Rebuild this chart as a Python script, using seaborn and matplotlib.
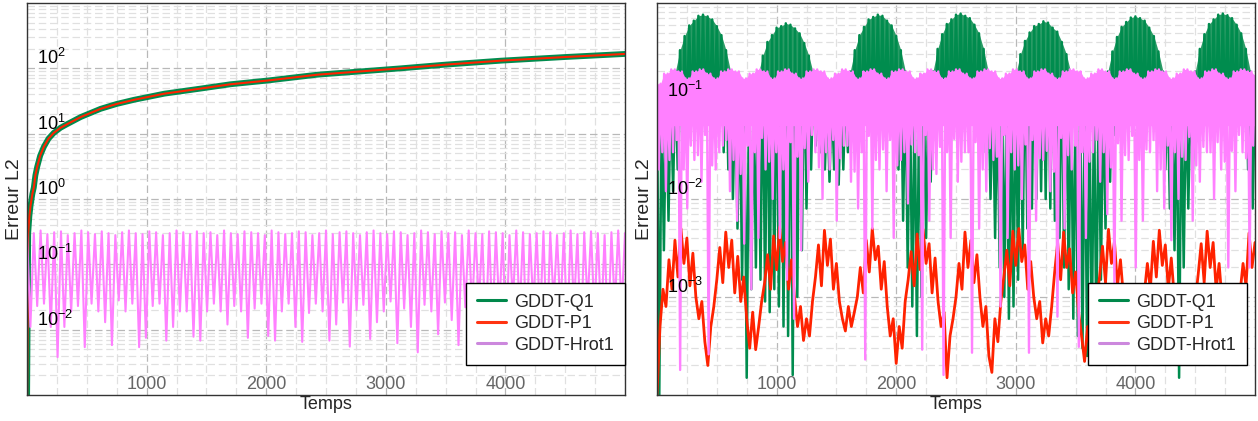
import numpy as np
import matplotlib
matplotlib.use("Agg")
import matplotlib.pyplot as plt
import seaborn as sns
from matplotlib.ticker import MultipleLocator, LogLocator, NullFormatter, NullLocator
from matplotlib.lines import Line2D

# ---------------- data ----------------
series_names = ["GDDT-Q1", "GDDT-P1", "GDDT-Hrot1"]
x_tick_values = [1000, 2000, 3000, 4000]
left_y_ticks = [1e-2, 1e-1, 1e0, 1e1, 1e2]
right_y_ticks = [1e-3, 1e-2, 1e-1]

# left panel: Q1 and P1 grow together
t_left_curve = [0, 10, 20, 30, 45, 57, 70, 85, 110, 141, 180, 224, 280, 336, 450, 615,
                750, 895, 1150, 1452, 1700, 2010, 2430, 2800, 3126, 3500, 3962, 4500, 5000]
q1_left = [5e-4, 0.3, 0.55, 0.8, 1.2, 1.5, 2.3, 3.1, 4.6, 6.3, 8.4, 10.3, 12.3, 14, 18, 24,
           28.5, 33, 41, 49, 57, 65, 80, 90, 100, 114, 131, 149, 166]
p1_left = [5e-4, 0.3, 0.55, 0.8, 1.2, 1.5, 2.3, 3.1, 4.6, 6.3, 8.4, 10.3, 12.3, 14, 18, 24,
           28.5, 33, 41, 49, 57, 65, 80, 90, 100, 114, 131, 149, 166]

# left panel: Hrot1 peaks and dips (alternating)
hrot_left_peaks = [.31, .30, .33, .29, .31, .32, .28, .30, .33, .31, .29, .32, .30, .28, .31, .33,
                   .30, .29, .32, .31, .28, .30, .33, .31, .29, .32, .30, .31, .28, .33, .30, .29,
                   .32, .31, .30, .28, .33, .31, .29, .30, .32, .31, .28, .30, .33, .29, .31, .32,
                   .30, .28, .31, .33, .30, .29, .32, .31, .28, .30, .33, .31, .29, .32, .30, .31,
                   .28, .33, .30, .29, .32, .31, .30, .28, .33, .31, .29, .30, .32, .31, .28, .30,
                   .33, .29, .31, .32, .30, .28, .31, .33, .30]
hrot_left_dips = [.011, .023, .025, .011, .0038, .011, .019, .023, .0054, .025, .019, .013, .0058,
                  .028, .019, .025, .0054, .0075, .023, .025, .0068, .011, .019, .019, .0078, .0068,
                  .019, .025, .019, .012, .023, .019, .0075, .021, .025, .008, .0068, .019, .025,
                  .011, .0065, .018, .025, .019, .0068, .012, .026, .0055, .02, .024, .0072, .013,
                  .019, .027, .0062, .021, .011, .0045, .024, .019, .0085, .026, .014, .0058, .022,
                  .019, .025, .007, .012, .02, .0052, .026, .018, .0075, .023, .013, .0062, .025,
                  .019, .0088, .021, .0055, .024, .017, .012, .0068, .022, .02]

# right panel: Q1 oscillation (upper / lower values, alternating)
q1_right_up = [.10, .12, .13, .14,
               .2, .33, .46, .59, .66, .74, .76, .73, .68, .58, .47, .33, .2,
               .13, .12, .12, .12, .13,
               .19, .29, .4, .47, .56, .58, .62, .6, .55, .49, .39, .29, .19,
               .13, .12, .12, .12, .12, .12, .13,
               .2, .33, .47, .57, .68, .72, .76, .74, .66, .59, .46, .33, .2,
               .13, .12, .12, .12, .13,
               .2, .34, .48, .61, .68, .76, .78, .74, .7, .6, .49, .34, .2,
               .13, .12, .12, .12, .13,
               .19, .3, .41, .5, .58, .61, .65, .63, .56, .51, .4, .3, .19,
               .13, .12, .12, .12, .12, .12, .13,
               .2, .32, .45, .57, .64, .71, .73, .7, .66, .56, .46, .32, .2,
               .13, .12, .12, .12, .12, .13,
               .2, .34, .48, .61, .68, .76, .78, .75, .7, .6, .49, .34, .2,
               .13]
q1_right_dn = [1e-4, .003, .006, .012, .02, .035,
               .065, .07, .065, .07, .065, .07, .065, .07,
               .03, .02, .01, .005, .0015, 1.5e-4, .0012, .002, .0015, 9e-4, 7e-4, .0012, 8e-4,
               5e-4, 4e-4, 1.6e-4, .001, .003, .008, .02, .035, .03, .02, .015, .02, .014, .02, .03,
               .065, .07, .065, .07, .065, .07, .065, .07, .065, .07,
               .02, .006, .002, 8e-4, 4e-4, .001, .004, .015, .045,
               .065, .07, .065, .07, .065, .07, .065, .07, .065, .07,
               .03, .01, .004, .002, .001, 6e-4, 8e-4, .0015, .003, .005, .008, .01, .012, .01,
               .008, .006, .004, .002, .0012, 6e-4, 4e-4, 3e-4, 2.5e-4, 2.3e-4, 4e-4, .0015, .005,
               .015, .045,
               .065, .07, .065, .07, .065, .07, .065, .07, .065, .07,
               .02, .008, .003, 1.5e-4, .002, .008, .02, .045,
               .065, .07, .065, .07, .065, .07, .065, .07, .065, .07,
               .02, .008]

# right panel: P1 noisy values
p1_right = [1e-4,
            5e-4, 1.2e-3, 8e-4,
            2.4e-3, 1.2e-3, 3.8e-3, 1.6e-3, 5e-3, 2.2e-3, 4e-3, 1.3e-3, 2.8e-3, 1e-3,
            6e-4, 9e-4, 3.5e-4, 2e-4, 5e-4, 8e-4,
            1.5e-3, 3.2e-3, 1.4e-3, 4.6e-3, 2e-3, 3.8e-3, 1.1e-3, 2.6e-3, 9e-4, 1.6e-3,
            6e-4, 3e-4, 7e-4, 2.9e-4, 5e-4, 9e-4,
            1.4e-3, 2.7e-3, 1.2e-3, 4.2e-3, 1.9e-3, 5.2e-3, 2.3e-3, 3.6e-3, 1.2e-3, 2.4e-3, 1e-3,
            5e-4, 8e-4, 3.6e-4, 6e-4, 4e-4, 9e-4,
            1.6e-3, 3.4e-3, 1.3e-3, 4.8e-3, 2.1e-3, 3.9e-3, 1.2e-3, 2.2e-3, 9e-4,
            6e-4, 4.5e-4, 8e-4, 5e-4, 7e-4, 1e-3,
            2e-3, 1.1e-3, 3.8e-3, 1.8e-3, 5e-3, 2.4e-3, 3.3e-3, 1.2e-3, 2.3e-3,
            8e-4, 4e-4, 6e-4, 2.1e-4, 5e-4, 3e-4, 9e-4,
            1.5e-3, 2.9e-3, 1.3e-3, 4.4e-3, 1.9e-3, 4.9e-3, 2.2e-3, 3.5e-3, 1.1e-3, 2.5e-3, 9e-4,
            5e-4, 7e-4, 1.5e-4, 4e-4, 6e-4, 1e-3,
            2.2e-3, 1.2e-3, 4.6e-3, 2e-3, 3.8e-3, 1.4e-3, 2.7e-3, 1e-3,
            5e-4, 8e-4, 2.5e-4, 1.7e-4, 6e-4, 3.5e-4, 9e-4,
            1.6e-3, 3e-3, 1.3e-3, 4.7e-3, 2.1e-3, 5e-3, 2.3e-3, 3.4e-3, 1.2e-3, 2.3e-3, 1e-3,
            6e-4, 9e-4, 3.4e-4, 6e-4, 4e-4, 8e-4,
            1.8e-3, 3.6e-3, 1.5e-3, 4.6e-3, 2e-3, 3.1e-3, 1.1e-3, 1.8e-3,
            7e-4, 4e-4, 2.2e-4, 5e-4, 2.6e-4, 6e-4, 9e-4,
            1.6e-3, 3.3e-3, 1.4e-3, 4.9e-3, 2.2e-3, 3.7e-3, 1.3e-3, 2.4e-3, 1e-3,
            6e-4, 9e-4, 4e-4, 6e-4, 3.8e-4, 7e-4, 1.1e-3,
            2.2e-3, 1.2e-3, 3.7e-3, 1.6e-3, 4.8e-3, 2.1e-3, 3.4e-3, 1.2e-3, 2.5e-3, 1e-3,
            5e-4, 8e-4, 3e-4, 2.5e-4, 6e-4, 4e-4, 9e-4,
            1.7e-3, 3.5e-3, 1.4e-3, 4.7e-3, 2e-3, 3.6e-3, 1.2e-3, 2.2e-3, 9e-4,
            6e-4, 3.5e-4, 2.5e-4, 5e-4, 7e-4, 1.1e-3,
            2.2e-3, 1.3e-3, 4.5e-3, 2e-3, 3.6e-3]

# right panel: Hrot1 upper values, main spike dips, shallow dips and dense band floor
hrot_right_up = [.15, .19, .21, .2, .17, .2, .21, .19, .17, .2, .21, .2, .17, .19, .21, .2, .17,
                 .2, .21, .19, .17, .2, .21, .2, .17, .19, .21, .2, .17, .2, .21, .19, .17, .2,
                 .21, .2, .17, .19, .21, .2, .17, .2, .21, .19, .17, .2, .21, .2, .17, .19, .21,
                 .2, .17, .2, .21, .19, .17, .2, .21, .2, .17, .19, .21, .2, .17, .2, .21, .19,
                 .17, .2, .21, .2, .17, .19, .21, .2, .17, .2, .21, .19, .17, .2, .21, .2, .18]
hrot_right_dips = [.02, .012, .03, 1.8e-4, .008, .025, .015, 2.6e-4, .02, .035, .012, .006,
                   .0035, .0012, .004, .02, .01, .004, .0015, 6e-4, .003, .015, .03, .01, .02,
                   .006, .035, .015, .008, 2.3e-4, .005, .02, .012, .004, .025, .009, .03,
                   2.9e-4, .006, .018, 1.6e-4, .004, .015, .03, 2.7e-4, .005, .012, .025, 8e-4,
                   .004, .02, .01, 2.7e-4, .006, .025, .012, 6.3e-4, .005, .02, 3.1e-4, .004,
                   .03, .015, .007, 1.4e-3, .006, .025, 2e-3, .006, .03, .012, .008, 3.8e-3,
                   .01, .025, 6e-3, .015, .03, .01, .02, 2e-3, .012, .03, 2e-3]
hrot_right_shallow = [.03, .025, .04, .02, .035, .028, .045, .022, .03, .04, .025, .018, .035,
                      .03, .042, .024, .03, .02, .038, .027, .033, .045, .021, .03, .04, .026,
                      .035, .019, .03, .044, .025, .032, .04, .022, .03, .036, .028, .045, .02,
                      .034, .03, .041, .024, .03, .038, .02, .033, .027, .045, .03, .022, .036,
                      .04, .026, .031, .019, .042, .028, .035, .03, .024, .04, .03, .021, .037,
                      .028, .044, .025, .032, .04, .02, .035, .03, .027, .043, .022, .034, .03,
                      .038, .024, .031, .045, .026, .035]
hrot_right_floor = 0.056
q1_right_fill_floor = 0.1

# ---------------- helpers ----------------
def alternate(highs, lows):
    vals = []
    n = min(len(highs), len(lows))
    for a, b in zip(highs[:n], lows[:n]):
        vals += [a, b]
    if len(highs) > n:
        vals.append(highs[n])
    return vals


def alternate_two(highs, lows_a, lows_b):
    vals = []
    n = min(len(highs), len(lows_a), len(lows_b))
    for k in range(n):
        vals += [highs[k], lows_a[k], highs[k], lows_b[k]]
    if len(highs) > n:
        vals.append(highs[n])
    return vals


def time_grid(n):
    return np.linspace(0, 5000, n)


# ---------------- style ----------------
sns.set_theme(style="white")
plt.rcParams["font.family"] = ["Liberation Sans", "DejaVu Sans"]
plt.rcParams["mathtext.fontset"] = "custom"
plt.rcParams["mathtext.rm"] = "Liberation Sans"
plt.rcParams["mathtext.it"] = "Liberation Sans:italic"
plt.rcParams["mathtext.bf"] = "Liberation Sans:bold"
plt.rcParams["mathtext.default"] = "regular"

GREEN = "#008C4E"
GREEN_FILL = "#2A9C66"
RED = "#FF2200"
PINK = "#FF80FF"
LEG_COLORS = ["#00884B", "#FF3311", "#CC88DD"]
FS = 13

fig = plt.figure(figsize=(12.58, 4.21), dpi=100)
posL = [27 / 1258, 26 / 421, 598 / 1258, 392 / 421]
posR = [657 / 1258, 26 / 421, 598 / 1258, 392 / 421]
axL = fig.add_axes(posL)
axR = fig.add_axes(posR)


def style_axes(ax, ylim, yticks):
    ax.set_yscale("log")
    ax.set_xlim(0, 5000)
    ax.set_ylim(*ylim)
    ax.set_xticks(x_tick_values)
    ax.xaxis.set_minor_locator(MultipleLocator(250))
    ax.set_yticks(yticks)
    ax.yaxis.set_minor_locator(LogLocator(base=10, subs=np.arange(2, 10), numticks=100))
    ax.yaxis.set_minor_formatter(NullFormatter())
    ax.set_axisbelow(True)
    ax.grid(True, which="major", color="#b8b8b8", ls=(0, (6, 3)), lw=0.9)
    ax.grid(True, which="minor", color="#e0e0e0", ls=(0, (6, 3)), lw=0.9)
    ax.tick_params(which="both", direction="in", color="#222222",
                   labelleft=False, labelbottom=False)
    ax.tick_params(which="major", length=5, width=0.8)
    ax.tick_params(which="minor", length=3, width=0.7)
    for sp in ax.spines.values():
        sp.set_color("#333333")
        sp.set_linewidth(1.0)
    ax.set_xlabel("Temps", fontsize=FS, labelpad=1)
    ax.set_ylabel("Erreur L2", fontsize=14, labelpad=3)


def label_overlay(pos, ylim, yticks):
    ov = fig.add_axes(pos, frameon=False, zorder=5)
    ov.set_yscale("log")
    ov.set_xlim(0, 5000)
    ov.set_ylim(*ylim)
    ov.set_xticks(x_tick_values)
    ov.set_yticks(yticks)
    ov.xaxis.set_minor_locator(NullLocator())
    ov.yaxis.set_minor_locator(NullLocator())
    ov.patch.set_visible(False)
    ov.tick_params(which="both", direction="in", length=0)
    ov.tick_params(axis="y", pad=-7.5, labelsize=FS, labelcolor="black")
    ov.tick_params(axis="x", pad=-1.5, labelsize=FS, labelcolor="#666666")
    for lab in ov.get_yticklabels():
        lab.set_horizontalalignment("left")
        lab.set_verticalalignment("bottom")
    for lab in ov.get_xticklabels():
        lab.set_verticalalignment("bottom")
    return ov


def add_legend(ax, anchor):
    handles = [Line2D([0], [0], color=c, lw=2.2) for c in LEG_COLORS]
    leg = ax.legend(handles, series_names, loc="lower right", bbox_to_anchor=anchor,
                    fontsize=FS, frameon=True, fancybox=False, framealpha=1,
                    edgecolor="black", handlelength=1.6, handletextpad=0.45,
                    labelspacing=0.25, borderpad=0.62, borderaxespad=0)
    leg.get_frame().set_linewidth(1.0)
    leg.set_zorder(10)


# ---------------- left panel ----------------
axL.set_yscale("log")
sns.lineplot(x=t_left_curve, y=q1_left, ax=axL, color=GREEN, linewidth=4.2,
             estimator=None, sort=False, legend=False)
sns.lineplot(x=t_left_curve, y=p1_left, ax=axL, color=RED, linewidth=1.5,
             estimator=None, sort=False, legend=False)
hl = alternate(hrot_left_peaks, hrot_left_dips)
sns.lineplot(x=time_grid(len(hl)), y=hl, ax=axL, color=PINK, linewidth=1.5,
             estimator=None, sort=False, legend=False)
style_axes(axL, (1e-3, 1e3), left_y_ticks)
add_legend(axL, (1.0, 0.0765))
label_overlay(posL, (1e-3, 1e3), left_y_ticks)

# ---------------- right panel ----------------
axR.set_yscale("log")
ql = alternate(q1_right_up, q1_right_dn)
t_ql = time_grid(len(ql))
axR.fill_between(t_ql[::2], q1_right_fill_floor, ql[::2], color=GREEN_FILL, lw=0, zorder=1.9)
sns.lineplot(x=t_ql, y=ql, ax=axR, color=GREEN, linewidth=1.8,
             estimator=None, sort=False, legend=False)
sns.lineplot(x=time_grid(len(p1_right)), y=p1_right, ax=axR, color=RED, linewidth=2.0,
             estimator=None, sort=False, legend=False)
hr = alternate_two(hrot_right_up, hrot_right_dips, hrot_right_shallow)
t_hr = time_grid(len(hr))
sns.lineplot(x=t_hr, y=hr, ax=axR, color=PINK, linewidth=1.7,
             estimator=None, sort=False, legend=False)
axR.fill_between(t_hr[::2], hrot_right_floor, hr[::2], color=PINK, lw=0, zorder=2.5)
style_axes(axR, (1e-4, 1e0), right_y_ticks)
add_legend(axR, (0.987, 0.0765))
label_overlay(posR, (1e-4, 1e0), right_y_ticks)

fig.savefig("out.png", dpi=100)
